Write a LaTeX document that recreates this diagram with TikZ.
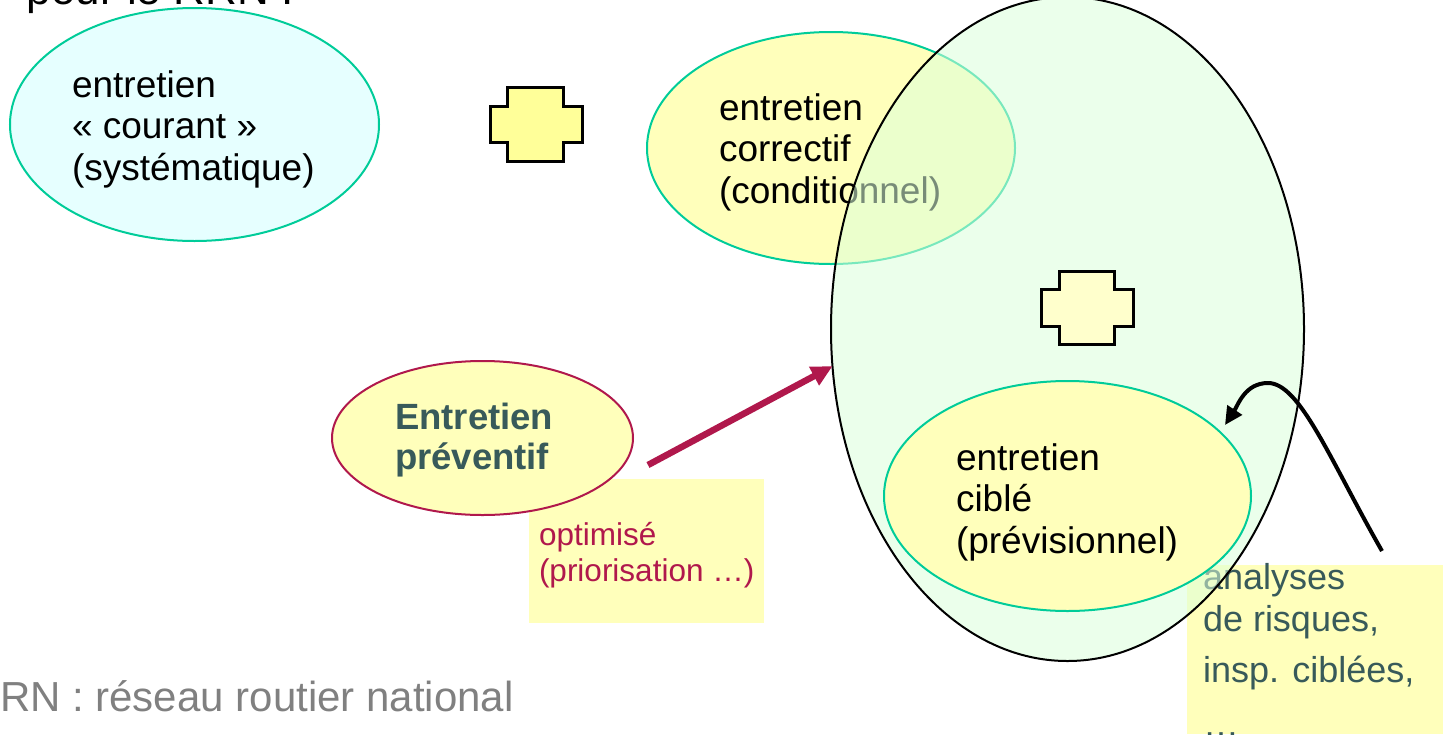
\documentclass[tikz,border=0pt]{standalone}
\usepackage{fontspec}
\setmainfont{Liberation Sans}
\usetikzlibrary{shapes.geometric,arrows.meta}
\definecolor{tealb}{RGB}{0,204,153}
\definecolor{cyanfill}{RGB}{230,255,255}
\definecolor{yfill}{RGB}{255,255,187}
\definecolor{yplus}{RGB}{255,255,153}
\definecolor{yplustwo}{RGB}{255,255,204}
\definecolor{gfill}{RGB}{219,255,219}
\definecolor{crimson}{RGB}{176,24,76}
\definecolor{slate}{RGB}{56,90,90}
\definecolor{grayt}{RGB}{128,128,128}
\tikzset{
  ell/.style={ellipse, inner sep=0pt, outer sep=0pt, line width=2pt},
  txt/.style={inner sep=0pt, outer sep=0pt, anchor=base west, align=left,
              font=\fontsize{37}{41.5}\selectfont},
  plusshape/.style={draw=black, line width=3pt, line join=miter},
  notebox/.style={fill=yfill, inner sep=0pt, outer sep=0pt, anchor=north west},
}
\begin{document}
\begin{tikzpicture}[x=1pt,y=-1pt]
\useasboundingbox (0,0) rectangle (1443,734);
% top (cut) title
\node[txt, font=\fontsize{44}{50}\selectfont] (title) at (27,4) {pour le RRN :};
% entretien courant
\node[ell, draw=tealb, fill=cyanfill, minimum width=369pt, minimum height=233pt] (courant) at (194.5,124.5) {};
\node[txt] (tcourant) at (72,180) {entretien\\« courant »\\(systématique)};
% plus 1
\draw[plusshape, fill=yplus] (507,87) -- (563,87) -- (563,106) -- (582,106) -- (582,142) -- (563,142) -- (563,161) -- (507,161) -- (507,142) -- (490,142) -- (490,106) -- (507,106) -- cycle;
% entretien correctif
\node[ell, draw=tealb, fill=yfill, minimum width=368pt, minimum height=232pt] (correctif) at (831,148) {};
\node[txt] (tcorrectif) at (719,203) {entretien\\correctif\\(conditionnel)};
% analyses box
\node[notebox, minimum width=256pt, minimum height=169pt] (anbox) at (1187,565) {};
\node[txt, text=slate, font=\fontsize{36}{42}\selectfont] (tan) at (1203,736) {analyses\\de risques,\\[9pt]insp. ciblées,\\[12pt]…};
% big ellipse
\node[ell, draw=black, fill=gfill, fill opacity=0.55, draw opacity=1, minimum width=473pt, minimum height=664pt] (big) at (1067.5,329) {};
% plus 2
\draw[plusshape, fill=yplustwo] (1059,271) -- (1114,271) -- (1114,289) -- (1133,289) -- (1133,326) -- (1114,326) -- (1114,344) -- (1059,344) -- (1059,326) -- (1041,326) -- (1041,289) -- (1059,289) -- cycle;
% entretien cible
\node[ell, draw=tealb, fill=yfill, minimum width=367pt, minimum height=230pt] (cible) at (1067.5,496) {};
\node[txt] (tcible) at (956,553) {entretien\\ciblé\\(prévisionnel)};
% optimise box
\node[notebox, minimum width=235pt, minimum height=144pt] (optbox) at (529,479) {};
\node[txt, text=crimson, font=\fontsize{31.5}{36}\selectfont] (topt) at (539,581) {optimisé\\(priorisation …)};
% entretien preventif
\node[ell, draw=crimson, fill=yfill, minimum width=301pt, minimum height=154pt] (preventif) at (482.5,438) {};
\node[txt, text=slate, font=\fontsize{36.5}{40}\selectfont\bfseries] (tprev) at (395,469) {Entretien\\préventif};
% arrows
\coordinate (arrstart) at (648,465);
\draw[crimson, line width=6.5pt, -{Triangle[length=21pt,width=20pt]}] (arrstart) -- (big.189.6);
\coordinate (cstart) at (1382,551);
\coordinate (cpeak) at (1268,383);
\coordinate (ctip) at (1225,425);
\draw[black, line width=4pt, -{Triangle[length=18pt,width=17pt]}] (cstart) .. controls (1330,460) and (1300,383) .. (cpeak) .. controls (1245,383) and (1238,405) .. (ctip);
% footnote
\node[txt, text=grayt, font=\fontsize{42}{48}\selectfont] (rn) at (0,711) {RN : réseau routier national};
\end{tikzpicture}
\end{document}
